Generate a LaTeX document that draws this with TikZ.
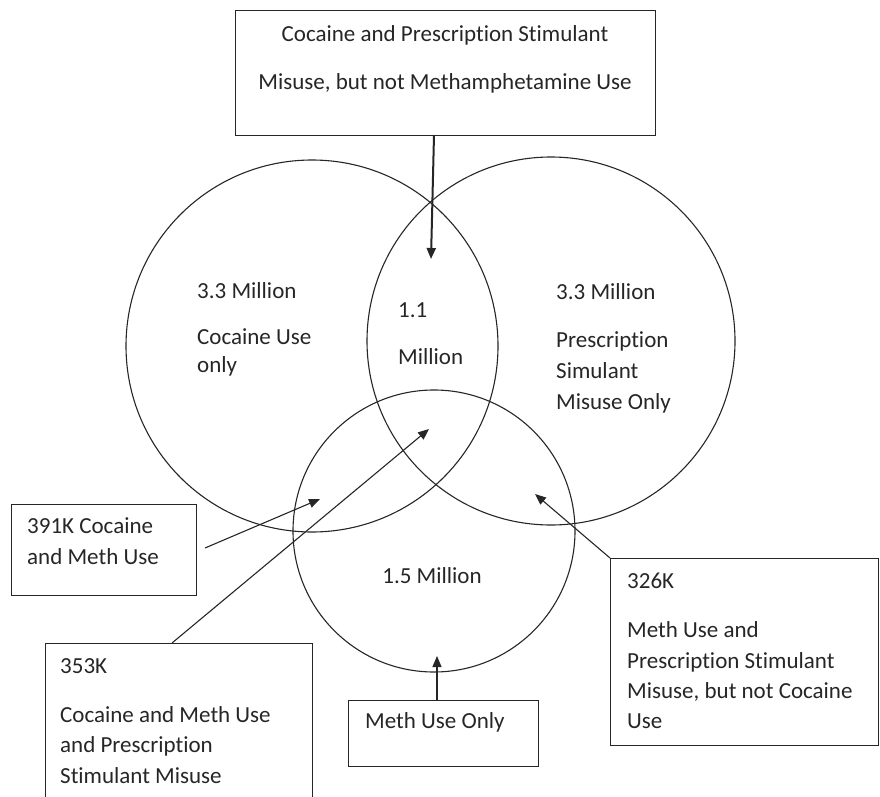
\documentclass[tikz,border=0pt]{standalone}
\usepackage{fontspec}
\setmainfont{Carlito}[Ligatures=NoCommon]
\usetikzlibrary{arrows.meta}
\begin{document}
\begin{tikzpicture}[x=1pt,y=-1pt,
  every node/.style={font=\fontsize{23}{30}\selectfont, text=black!85},
  txt/.style={anchor=base west, inner sep=0pt},
  ctxt/.style={anchor=base, inner sep=0pt},
  vset/.style={draw=black!85, line width=1.1pt, circle, inner sep=0pt},
  lbox/.style={draw=black!85, line width=1.1pt, rectangle, inner sep=0pt, anchor=north west},
  arr/.style={draw=black!85, line width=1.1pt, -{Triangle[length=11pt,width=9pt]}},
]
\useasboundingbox (0,0) rectangle (880,797);
% circles
\node[vset, minimum size=372pt] (coc) at (312,346) {};
\node[vset, minimum size=368pt] (pre) at (551,341) {};
\node[vset, minimum size=282pt] (meth) at (434,531) {};
% boxes
\node[lbox, minimum width=420pt, minimum height=125pt] (topbox) at (235,10) {};
\node[lbox, minimum width=185pt, minimum height=91pt] (b391) at (11,504) {};
\node[lbox, minimum width=267pt, minimum height=170pt] (b353) at (45,643) {};
\node[lbox, minimum width=190pt, minimum height=66pt] (bmeth) at (348,700) {};
\node[lbox, minimum width=268pt, minimum height=187pt] (b326) at (610,558) {};
% texts
\node[ctxt] (t1) at (445,42) {Cocaine and Prescription Stimulant};
\node[ctxt] (t2) at (445,90) {Misuse, but not Methamphetamine Use};
\node[txt] (l1) at (197,298) {3.3 Million};
\node[txt] (l2) at (197,344) {Cocaine Use};
\node[txt] (l3) at (197,372) {only};
\node[txt] (r1) at (556,299) {3.3 Million};
\node[txt] (r2) at (556,347) {Prescription};
\node[txt] (r3) at (556,378) {Simulant};
\node[txt] (r4) at (556,409) {Misuse Only};
\node[txt] (c1) at (398,317) {1.1};
\node[txt] (c2) at (398,364) {Million};
\node[ctxt] (m1) at (432,583) {1.5 Million};
\node[txt] (a1) at (27,533) {391K Cocaine};
\node[txt] (a2) at (27,564) {and Meth Use};
\node[txt] (b1) at (60,673) {353K};
\node[txt] (b2) at (60,722) {Cocaine and Meth Use};
\node[txt] (b3) at (60,752) {and Prescription};
\node[txt] (b4) at (60,783) {Stimulant Misuse};
\node[txt] (d1) at (365,728) {Meth Use Only};
\node[txt] (e1) at (627,588) {326K};
\node[txt] (e2) at (627,637) {Meth Use and};
\node[txt] (e3) at (627,668) {Prescription Stimulant};
\node[txt] (e4) at (627,698) {Misuse, but not Cocaine};
\node[txt] (e5) at (627,728) {Use};
% arrow end points
\coordinate (s0) at (434,135);
\coordinate (e0) at (431,259);
\coordinate (s1) at (205,548);
\coordinate (e1p) at (320,499);
\coordinate (s2) at (172,643);
\coordinate (e2p) at (429,429);
\coordinate (s3) at (437,700);
\coordinate (e3p) at (437,656);
\coordinate (s4) at (610,558);
\coordinate (e4p) at (535,494);
% arrows
\draw[arr, line width=2pt] (s0) -- (e0);
\draw[arr] (s1) -- (e1p);
\draw[arr] (s2) -- (e2p);
\draw[arr] (s3) -- (e3p);
\draw[arr] (s4) -- (e4p);
\end{tikzpicture}
\end{document}
